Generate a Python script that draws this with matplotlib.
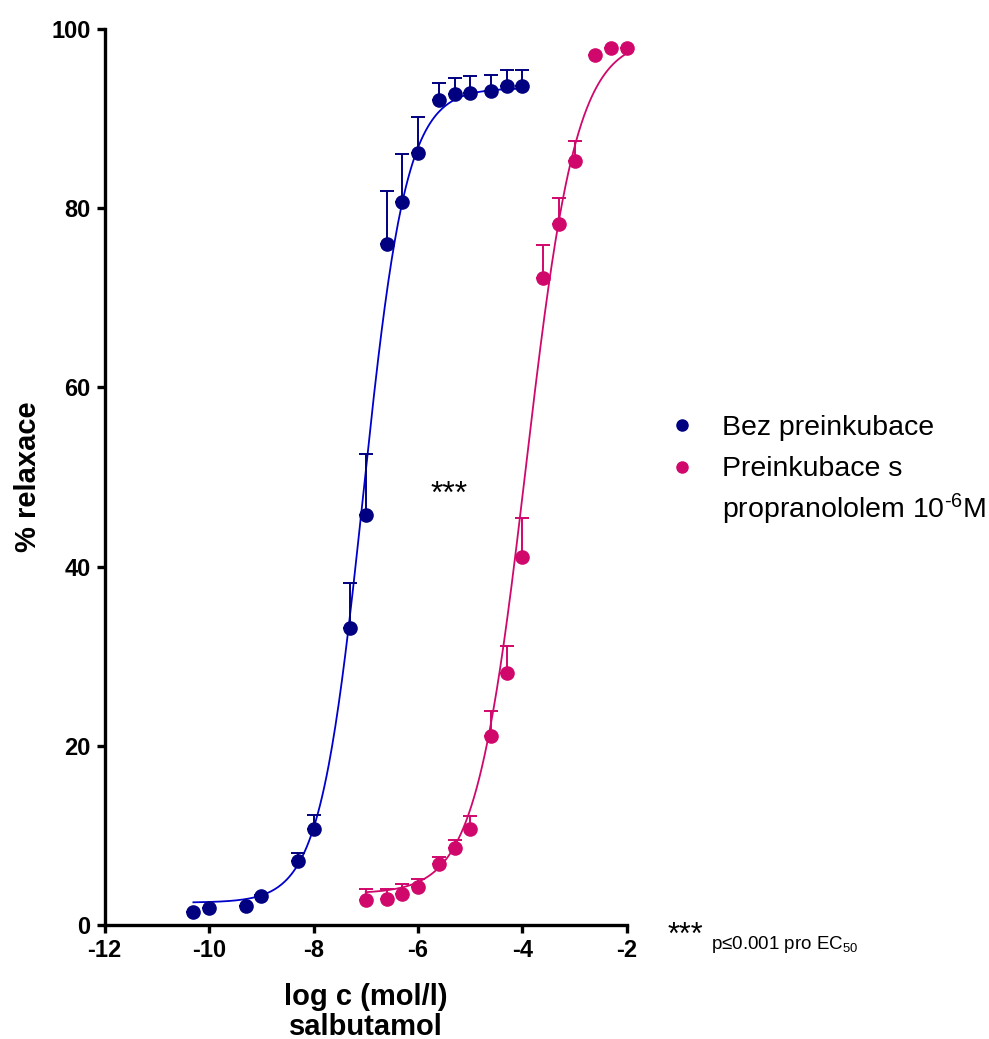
import numpy as np
import matplotlib
matplotlib.use("Agg")
import matplotlib.pyplot as plt
from matplotlib.lines import Line2D

plt.rcParams['font.family'] = ['Liberation Sans', 'DejaVu Sans']
plt.rcParams['mathtext.fontset'] = 'custom'
plt.rcParams['mathtext.rm'] = 'Liberation Sans'
plt.rcParams['mathtext.it'] = 'Liberation Sans:italic'
plt.rcParams['mathtext.bf'] = 'Liberation Sans:bold'
plt.rcParams['axes.unicode_minus'] = False

# data
logc_bez = [-10.3, -10.0, -9.3, -9.0, -8.3, -8.0, -7.3, -7.0, -6.6, -6.3,
            -6.0, -5.6, -5.3, -5.0, -4.6, -4.3, -4.0]
relax_bez = [1.4, 1.9, 2.1, 3.2, 7.1, 10.7, 33.1, 45.8, 76.0, 80.7,
             86.2, 92.1, 92.7, 92.9, 93.1, 93.6, 93.6]
sem_bez = [0.0, 0.0, 0.0, 0.2, 0.9, 1.6, 5.1, 6.8, 5.9, 5.4,
           4.0, 1.9, 1.8, 1.8, 1.8, 1.8, 1.8]

logc_prop = [-7.0, -6.6, -6.3, -6.0, -5.6, -5.3, -5.0, -4.6, -4.3, -4.0,
             -3.6, -3.3, -3.0, -2.6, -2.3, -2.0]
relax_prop = [2.8, 2.9, 3.5, 4.2, 6.8, 8.6, 10.7, 21.1, 28.1, 41.1,
              72.2, 78.2, 85.3, 97.1, 97.9, 97.9]
sem_prop = [1.2, 1.15, 1.05, 0.9, 0.8, 0.85, 1.5, 2.8, 3.0, 4.3,
            3.7, 2.9, 2.2, 0.0, 0.0, 0.0]

# sigmoid fit parameters (bottom, top, logEC50, hill)
fit_bez = (2.5, 93.4, -7.05, 1.05)
fit_prop = (3.5, 99.0, -3.93, 0.9)

col_bez_pt = '#000080'
col_bez_ln = '#0000CC'
col_prop = '#D0086C'

legend_labels = ['Bez preinkubace', 'Preinkubace s',
                 'propranololem 10$^{\\text{-6}}$M']


def sigmoid(x, p):
    b, t, ec, h = p
    return b + (t - b) / (1 + 10 ** ((ec - x) * h))


fig = plt.figure(figsize=(9.89, 10.39), dpi=100)
ax = fig.add_axes([0.1058, 0.1097, 0.528, 0.8624])

for xs, ys, es, fit, cp, cl in [
        (logc_bez, relax_bez, sem_bez, fit_bez, col_bez_pt, col_bez_ln),
        (logc_prop, relax_prop, sem_prop, fit_prop, col_prop, col_prop)]:
    xx = np.linspace(min(xs), max(xs), 300)
    ax.plot(xx, sigmoid(xx, fit), color=cl, lw=1.3, zorder=2)
    ax.errorbar(xs, ys, yerr=[np.zeros(len(es)), es], fmt='none', ecolor=cp,
                elinewidth=1.4, capsize=5, capthick=1.4, zorder=3, clip_on=False)
    ax.plot(xs, ys, 'o', color=cp, ms=9.5, zorder=4, clip_on=False)

ax.set_xlim(-12, -2)
ax.set_ylim(0, 100)
ax.set_xticks(range(-12, -1, 2))
ax.set_yticks(range(0, 101, 20))
for s in ['top', 'right']:
    ax.spines[s].set_visible(False)
for s in ['left', 'bottom']:
    ax.spines[s].set_linewidth(2.4)
ax.tick_params(direction='out', length=6, width=2.4, labelsize=17, pad=4)
for t in ax.get_xticklabels() + ax.get_yticklabels():
    t.set_fontweight('bold')

ax.set_xlabel('log c (mol/l)\nsalbutamol', fontsize=21, fontweight='bold',
              labelpad=15, linespacing=1.1)
ax.set_ylabel('% relaxace', fontsize=21, fontweight='bold', va='center')
ax.yaxis.set_label_coords(-0.147, 0.5)

ax.text(-5.4, 48.0, '***', fontsize=23, ha='center', va='center')

# legend, drawn by hand to match spacing
for yc, c in [(0.591, col_bez_pt), (0.5505, col_prop)]:
    fig.add_artist(Line2D([0.6896], [yc], marker='o', color=c, ms=8,
                          ls='none', transform=fig.transFigure))
for yb, lab in zip([0.5813, 0.5419, 0.5014], legend_labels):
    fig.text(0.730, yb, lab, fontsize=20.5, ha='left', va='baseline')

fig.text(0.675, 0.099, '***', fontsize=22, ha='left', va='center')
fig.text(0.719, 0.091, 'p≤0.001 pro EC$_{\\mathregular{50}}$', fontsize=13.5,
         ha='left', va='center')

fig.savefig('out.png', dpi=100)
